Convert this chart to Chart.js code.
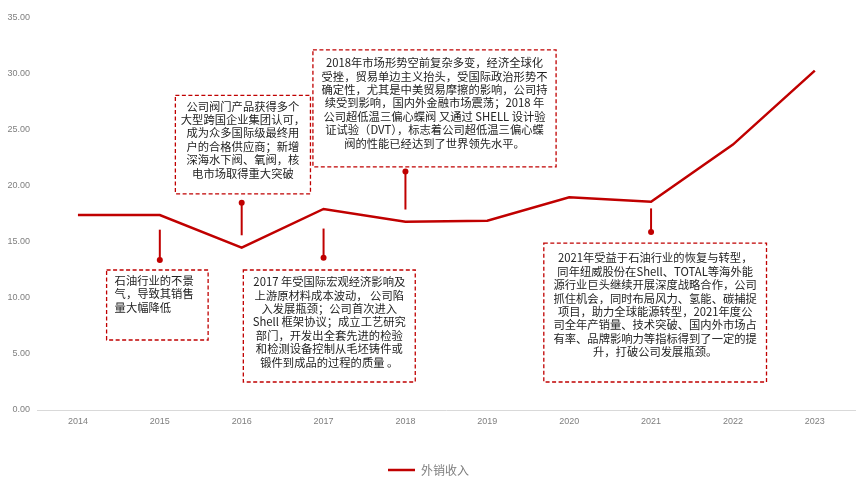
<!DOCTYPE html>
<html>
<head>
<meta charset="utf-8">
<script src="https://cdn.jsdelivr.net/npm/chart.js@4/dist/chart.umd.min.js"></script>
<style>
  html, body { margin: 0; padding: 0; background: #fff; }
  #wrap { width: 857px; height: 480px; }
</style>
</head>
<body>
<div id="wrap"><canvas id="myChart"></canvas></div>
<script>
// 年份与外销收入
const years = ['2014', '2015', '2016', '2017', '2018', '2019', '2020', '2021', '2022', '2023'];
const exportRevenue = [17.4, 17.4, 14.5, 17.95, 16.8, 16.9, 19.0, 18.6, 23.7, 30.3];
const yTicks = [0, 5, 10, 15, 20, 25, 30, 35];

// 注释文字
const note2015 = ['石油行业的不景', '气，导致其销售', '量大幅降低'];
const note2016 = ['公司阀门产品获得多个', '大型跨国企业集团认可，', '成为众多国际级最终用', '户的合格供应商；新增', '深海水下阀、氧阀，核', '电市场取得重大突破'];
const note2017 = ['2017 年受国际宏观经济影响及', '上游原材料成本波动， 公司陷', '入发展瓶颈；公司首次进入', 'Shell 框架协议；成立工艺研究', '部门，开发出全套先进的检验', '和检测设备控制从毛坯铸件或', '锻件到成品的过程的质量 。'];
const note2018 = ['2018年市场形势空前复杂多变，经济全球化', '受挫，贸易单边主义抬头，受国际政治形势不', '确定性，尤其是中美贸易摩擦的影响，公司持', '续受到影响，国内外金融市场震荡；2018 年', '公司超低温三偏心蝶阀 又通过 SHELL 设计验', '证试验（DVT），标志着公司超低温三偏心蝶', '阀的性能已经达到了世界领先水平。'];
const note2021 = ['2021年受益于石油行业的恢复与转型，', '同年纽威股份在Shell、TOTAL等海外能', '源行业巨头继续开展深度战略合作，公司', '抓住机会，同时布局风力、氢能、碳捕捉', '项目，助力全球能源转型，2021年度公', '司全年产销量、技术突破、国内外市场占', '有率、品牌影响力等指标得到了一定的提', '升，打破公司发展瓶颈。'];

// 注释框的位置（x 用类目序号，y 用数值轴）
const notes = [
  { lines: note2015, at: 1, box: [0.35, 1.59, 12.5, 6.25], dot: 13.4, end: 16.1, align: 'left', first: 10.7 },
  { lines: note2016, at: 2, box: [1.19, 2.84, 28.1, 19.3], dot: 18.5, end: 15.6, align: 'center', first: 11 },
  { lines: note2017, at: 3, box: [2.02, 4.12, 12.5, 2.5], dot: 13.6, end: 16.2, align: 'center', first: 12 },
  { lines: note2018, at: 4, box: [2.87, 5.84, 32.15, 21.7], dot: 21.3, end: 17.9, align: 'center', first: 13 },
  { lines: note2021, at: 7, box: [5.69, 8.41, 14.9, 2.5], dot: 15.9, end: 18.0, align: 'center', first: 15 }
];

const RED = '#c00000';

const notePlugin = {
  id: 'notes',
  afterDatasetsDraw(chart) {
    const ctx = chart.ctx;
    const xs = chart.scales.x, ys = chart.scales.y;
    notes.forEach(n => {
      const l = xs.getPixelForValue(n.box[0]);
      const r = xs.getPixelForValue(n.box[1]);
      const t = ys.getPixelForValue(n.box[2]);
      const b = ys.getPixelForValue(n.box[3]);
      ctx.save();
      // 引线和圆点
      const cx = xs.getPixelForValue(n.at);
      const dy = ys.getPixelForValue(n.dot);
      const ey = ys.getPixelForValue(n.end);
      ctx.strokeStyle = RED;
      ctx.lineWidth = 2;
      ctx.beginPath();
      ctx.moveTo(cx, dy);
      ctx.lineTo(cx, ey);
      ctx.stroke();
      ctx.fillStyle = RED;
      ctx.beginPath();
      ctx.arc(cx, dy, 3, 0, Math.PI * 2);
      ctx.fill();
      // 虚线框
      ctx.fillStyle = '#fff';
      ctx.fillRect(l, t, r - l, b - t);
      ctx.setLineDash([4, 2.5]);
      ctx.lineWidth = 1.3;
      ctx.strokeStyle = RED;
      ctx.strokeRect(l, t, r - l, b - t);
      ctx.setLineDash([]);
      // 文字
      ctx.fillStyle = '#222';
      ctx.font = '11.3px "Noto Sans CJK SC", "Noto Sans", sans-serif';
      ctx.textBaseline = 'middle';
      ctx.textAlign = n.align;
      const tx = n.align === 'left' ? l + 8 : (l + r) / 2;
      n.lines.forEach((s, i) => {
        ctx.fillText(s, tx, t + n.first + i * 13.4);
      });
      ctx.restore();
    });
  }
};

const ctx = document.getElementById('myChart').getContext('2d');

const myChart = new Chart(ctx, {
  type: 'line',
  data: {
    labels: years,
    datasets: [{
      label: '外销收入',
      data: exportRevenue,
      borderColor: RED,
      backgroundColor: RED,
      borderWidth: 2.5,
      pointRadius: 0,
      tension: 0
    }]
  },
  options: {
    responsive: true,
    maintainAspectRatio: false,
    animation: false,
    layout: { padding: { top: 18, right: 0, bottom: -6, left: 0 } },
    plugins: {
      legend: {
        position: 'bottom',
        labels: {
          usePointStyle: true,
          pointStyle: 'line',
          pointStyleWidth: 27,
          padding: 4,
          color: '#7f7f7f',
          font: { size: 12, family: '"Noto Sans CJK SC", sans-serif' }
        }
      },
      tooltip: { enabled: false }
    },
    scales: {
      x: {
        offset: true,
        grid: { display: false, drawTicks: false },
        border: { color: '#d9d9d9', width: 1 },
        ticks: { color: '#7f7f7f', padding: 6, font: { size: 9, family: '"Liberation Sans", sans-serif' } },
        afterFit(scale) { scale.height = 50; }
      },
      y: {
        min: 0,
        max: 35,
        grid: { display: false, drawTicks: false },
        border: { display: false },
        afterBuildTicks(scale) { scale.ticks = yTicks.map(v => ({ value: v })); },
        ticks: {
          color: '#7f7f7f',
          padding: 7,
          font: { size: 9, family: '"Liberation Sans", sans-serif' },
          callback: v => v.toFixed(2)
        },
        afterFit(scale) { scale.width = 37; }
      }
    }
  },
  plugins: [notePlugin]
});

myChart.update();
</script>
</body>
</html>
